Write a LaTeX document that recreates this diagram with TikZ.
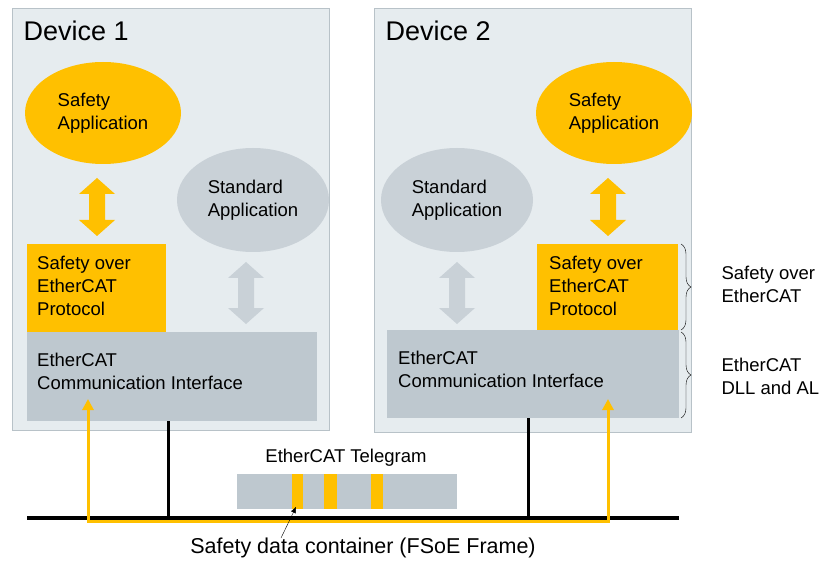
\documentclass[tikz,border=0pt]{standalone}
\usepackage{fontspec}
\setmainfont{Liberation Sans}
\usetikzlibrary{shapes.geometric,arrows.meta,decorations.pathreplacing}
\definecolor{dev}{HTML}{E6ECEF}
\definecolor{devb}{HTML}{B8C2C8}
\definecolor{org}{HTML}{FFC000}
\definecolor{gry}{HTML}{BEC8CF}
\definecolor{gre}{HTML}{C9D1D7}
\begin{document}
\begin{tikzpicture}[x=1pt,y=-1pt,
 dev/.style={draw=devb,fill=dev,line width=0.8pt},
 ell/.style={ellipse,minimum width=156pt,minimum height=102pt,align=left,font=\fontsize{18.5}{23}\selectfont,inner sep=0pt},
 box/.style={anchor=north west,inner sep=0pt,align=left,font=\fontsize{18.5}{23}\selectfont},
 txt/.style={font=\fontsize{18.5}{23}\selectfont,align=left}]
\useasboundingbox (0,0) rectangle (825,564);
\fill[white] (0,0) rectangle (825,564);
% devices
\draw[dev] (12,8) rectangle (329,430);
\draw[dev] (374,8) rectangle (691,432);
\node[anchor=west,font=\fontsize{27}{30}\selectfont] (d1) at (20,31) {Device 1};
\node[anchor=west,font=\fontsize{27}{30}\selectfont] (d2) at (382,31) {Device 2};
% device 1
\node[ell,fill=org] (sa1) at (103,113) {Safety\\Application};
\node[ell,fill=gre,minimum width=152pt,minimum height=104pt] (st1) at (253,200) {Standard\\Application};
\fill[org] (27,244) rectangle (166,332);
\node[box] (sp1) at (37,256) {Safety over\\EtherCAT\\Protocol};
\fill[gry] (27,332) rectangle (317,421);
\node[box] (ci1) at (37,353) {EtherCAT\\Communication Interface};
% device 2
\node[ell,fill=org] (sa2) at (614,113) {Safety\\Application};
\node[ell,fill=gre,minimum width=152pt,minimum height=104pt] (st2) at (457,200) {Standard\\Application};
\fill[org] (537,244) rectangle (678,330);
\node[box] (sp2) at (549,256) {Safety over\\EtherCAT\\Protocol};
\fill[gry] (387,330) rectangle (679,418);
\node[box] (ci2) at (398,351) {EtherCAT\\Communication Interface};
% double arrows
\newcommand{\dblarrow}[4]{%
 \fill[#4] (#1-18,#2+16) -- (#1,#2) -- (#1+18,#2+16) -- (#1+8,#2+16) -- (#1+8,#3-16) -- (#1+18,#3-16) -- (#1,#3) -- (#1-18,#3-16) -- (#1-8,#3-16) -- (#1-8,#2+16) -- cycle;}
\dblarrow{97}{178}{236}{org}
\dblarrow{608}{178}{236}{org}
\dblarrow{246}{262}{324}{gre}
\dblarrow{457}{262}{324}{gre}
% braces
\draw[decorate,decoration={brace,amplitude=10pt}] (681,244) -- (681,330);
\draw[decorate,decoration={brace,amplitude=10pt}] (681,332) -- (681,418);
\node[txt,anchor=west] (l1) at (718,284) {Safety over\\EtherCAT};
\node[txt,anchor=west] (l2) at (718,376) {EtherCAT\\DLL and AL};
% bus
\coordinate (b1) at (27,518); \coordinate (b2) at (679,518);
\draw[line width=3.5pt] (b1) -- (b2);
\draw[line width=3pt] (168,421) -- (168,518);
\draw[line width=3pt] (528,418) -- (528,518);
\draw[org,line width=3pt,-{Triangle[length=11pt,width=11pt]}] (88,521) -- (88,399);
\draw[org,line width=3pt,-{Triangle[length=11pt,width=11pt]}] (87,521) -- (608,521) -- (608,399);
% telegram
\node[txt,anchor=center] (tt) at (346,458) {EtherCAT Telegram};
\fill[gry] (237,474) rectangle (457,509);
\fill[org] (292,474) rectangle (303,509);
\fill[org] (324,474) rectangle (337,509);
\fill[org] (371,474) rectangle (383,509);
\coordinate (fr) at (296,507);
\node[anchor=center,font=\fontsize{21.5}{24}\selectfont] (sd) at (363,548) {Safety data container (FSoE Frame)};
\draw[-{Triangle[length=6pt,width=5pt]}] (281,538) -- (fr);
\end{tikzpicture}
\end{document}
